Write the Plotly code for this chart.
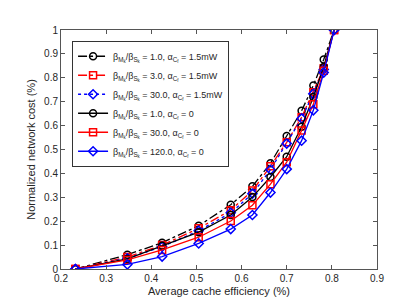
import plotly.graph_objects as go

x_eff = [0.232, 0.347, 0.424, 0.505, 0.576, 0.624, 0.664, 0.700, 0.733, 0.759, 0.782, 0.805]

y_b1_15 = [0, 0.060, 0.110, 0.181, 0.269, 0.346, 0.442, 0.556, 0.662, 0.768, 0.877, 1.0]
y_b3_15 = [0, 0.050, 0.100, 0.170, 0.246, 0.328, 0.430, 0.530, 0.635, 0.740, 0.840, 1.0]
y_b30_15 = [0, 0.045, 0.093, 0.160, 0.235, 0.315, 0.415, 0.525, 0.630, 0.733, 0.835, 1.0]
y_b1_0 = [0, 0.042, 0.097, 0.154, 0.226, 0.301, 0.385, 0.470, 0.595, 0.720, 0.845, 1.0]
y_b30_0 = [0, 0.038, 0.080, 0.133, 0.201, 0.267, 0.355, 0.447, 0.580, 0.689, 0.830, 1.0]
y_b120_0 = [0, 0.019, 0.052, 0.107, 0.167, 0.226, 0.320, 0.418, 0.537, 0.664, 0.822, 1.0]

ratios = ["1.0", "3.0", "30.0", "1.0", "30.0", "120.0"]
alphas = ["1.5mW", "1.5mW", "1.5mW", "0", "0", "0"]

series = [y_b1_15, y_b3_15, y_b30_15, y_b1_0, y_b30_0, y_b120_0]
colors = ["#000000", "#ff0000", "#0000ff", "#000000", "#ff0000", "#0000ff"]
dashes = ["dashdot", "dashdot", "dot", "solid", "solid", "solid"]
symbols = ["circle-open", "square-open", "diamond-open", "circle-open", "square-open", "diamond-open"]

def label(r, a):
    return ("β<sub>M<sub>k</sub></sub>/β<sub>S<sub>k</sub></sub> = " + r +
            ", α<sub>C<sub>f</sub></sub> = " + a)

fig = go.Figure()
for ys, c, d, s, r, a in zip(series, colors, dashes, symbols, ratios, alphas):
    fig.add_trace(go.Scatter(
        x=x_eff, y=ys, mode="lines+markers", name=label(r, a),
        line=dict(color=c, dash=d, width=1.3),
        marker=dict(symbol=s, size=7, color=c, line=dict(width=1.5, color=c)),
    ))

axis_common = dict(
    showgrid=False, zeroline=False, showline=True, linecolor="#555", linewidth=1,
    mirror="ticks", ticks="inside", ticklen=4, tickcolor="#555",
    tickfont=dict(size=10, color="#262626"),
)

fig.update_layout(
    width=409, height=300,
    margin=dict(l=53, r=40, t=22, b=33),
    paper_bgcolor="white", plot_bgcolor="white",
    font=dict(family="Liberation Sans, Arial, sans-serif", size=10, color="#262626"),
    xaxis=dict(range=[0.2, 0.9], dtick=0.1, tick0=0.2,
               title=dict(text="Average cache efficiency (%)", standoff=4, font=dict(size=11)),
               **axis_common),
    yaxis=dict(range=[0, 1], dtick=0.1, tick0=0,
               title=dict(text="Normalized network cost (%)", standoff=6, font=dict(size=11)),
               **axis_common),
    legend=dict(x=0.035, y=0.955, xanchor="left", yanchor="top",
                bgcolor="white", bordercolor="#333", borderwidth=1,
                font=dict(size=9, color="#262626"), tracegroupgap=4,
                itemwidth=30),
    showlegend=True,
)

fig.write_html("out.html")
